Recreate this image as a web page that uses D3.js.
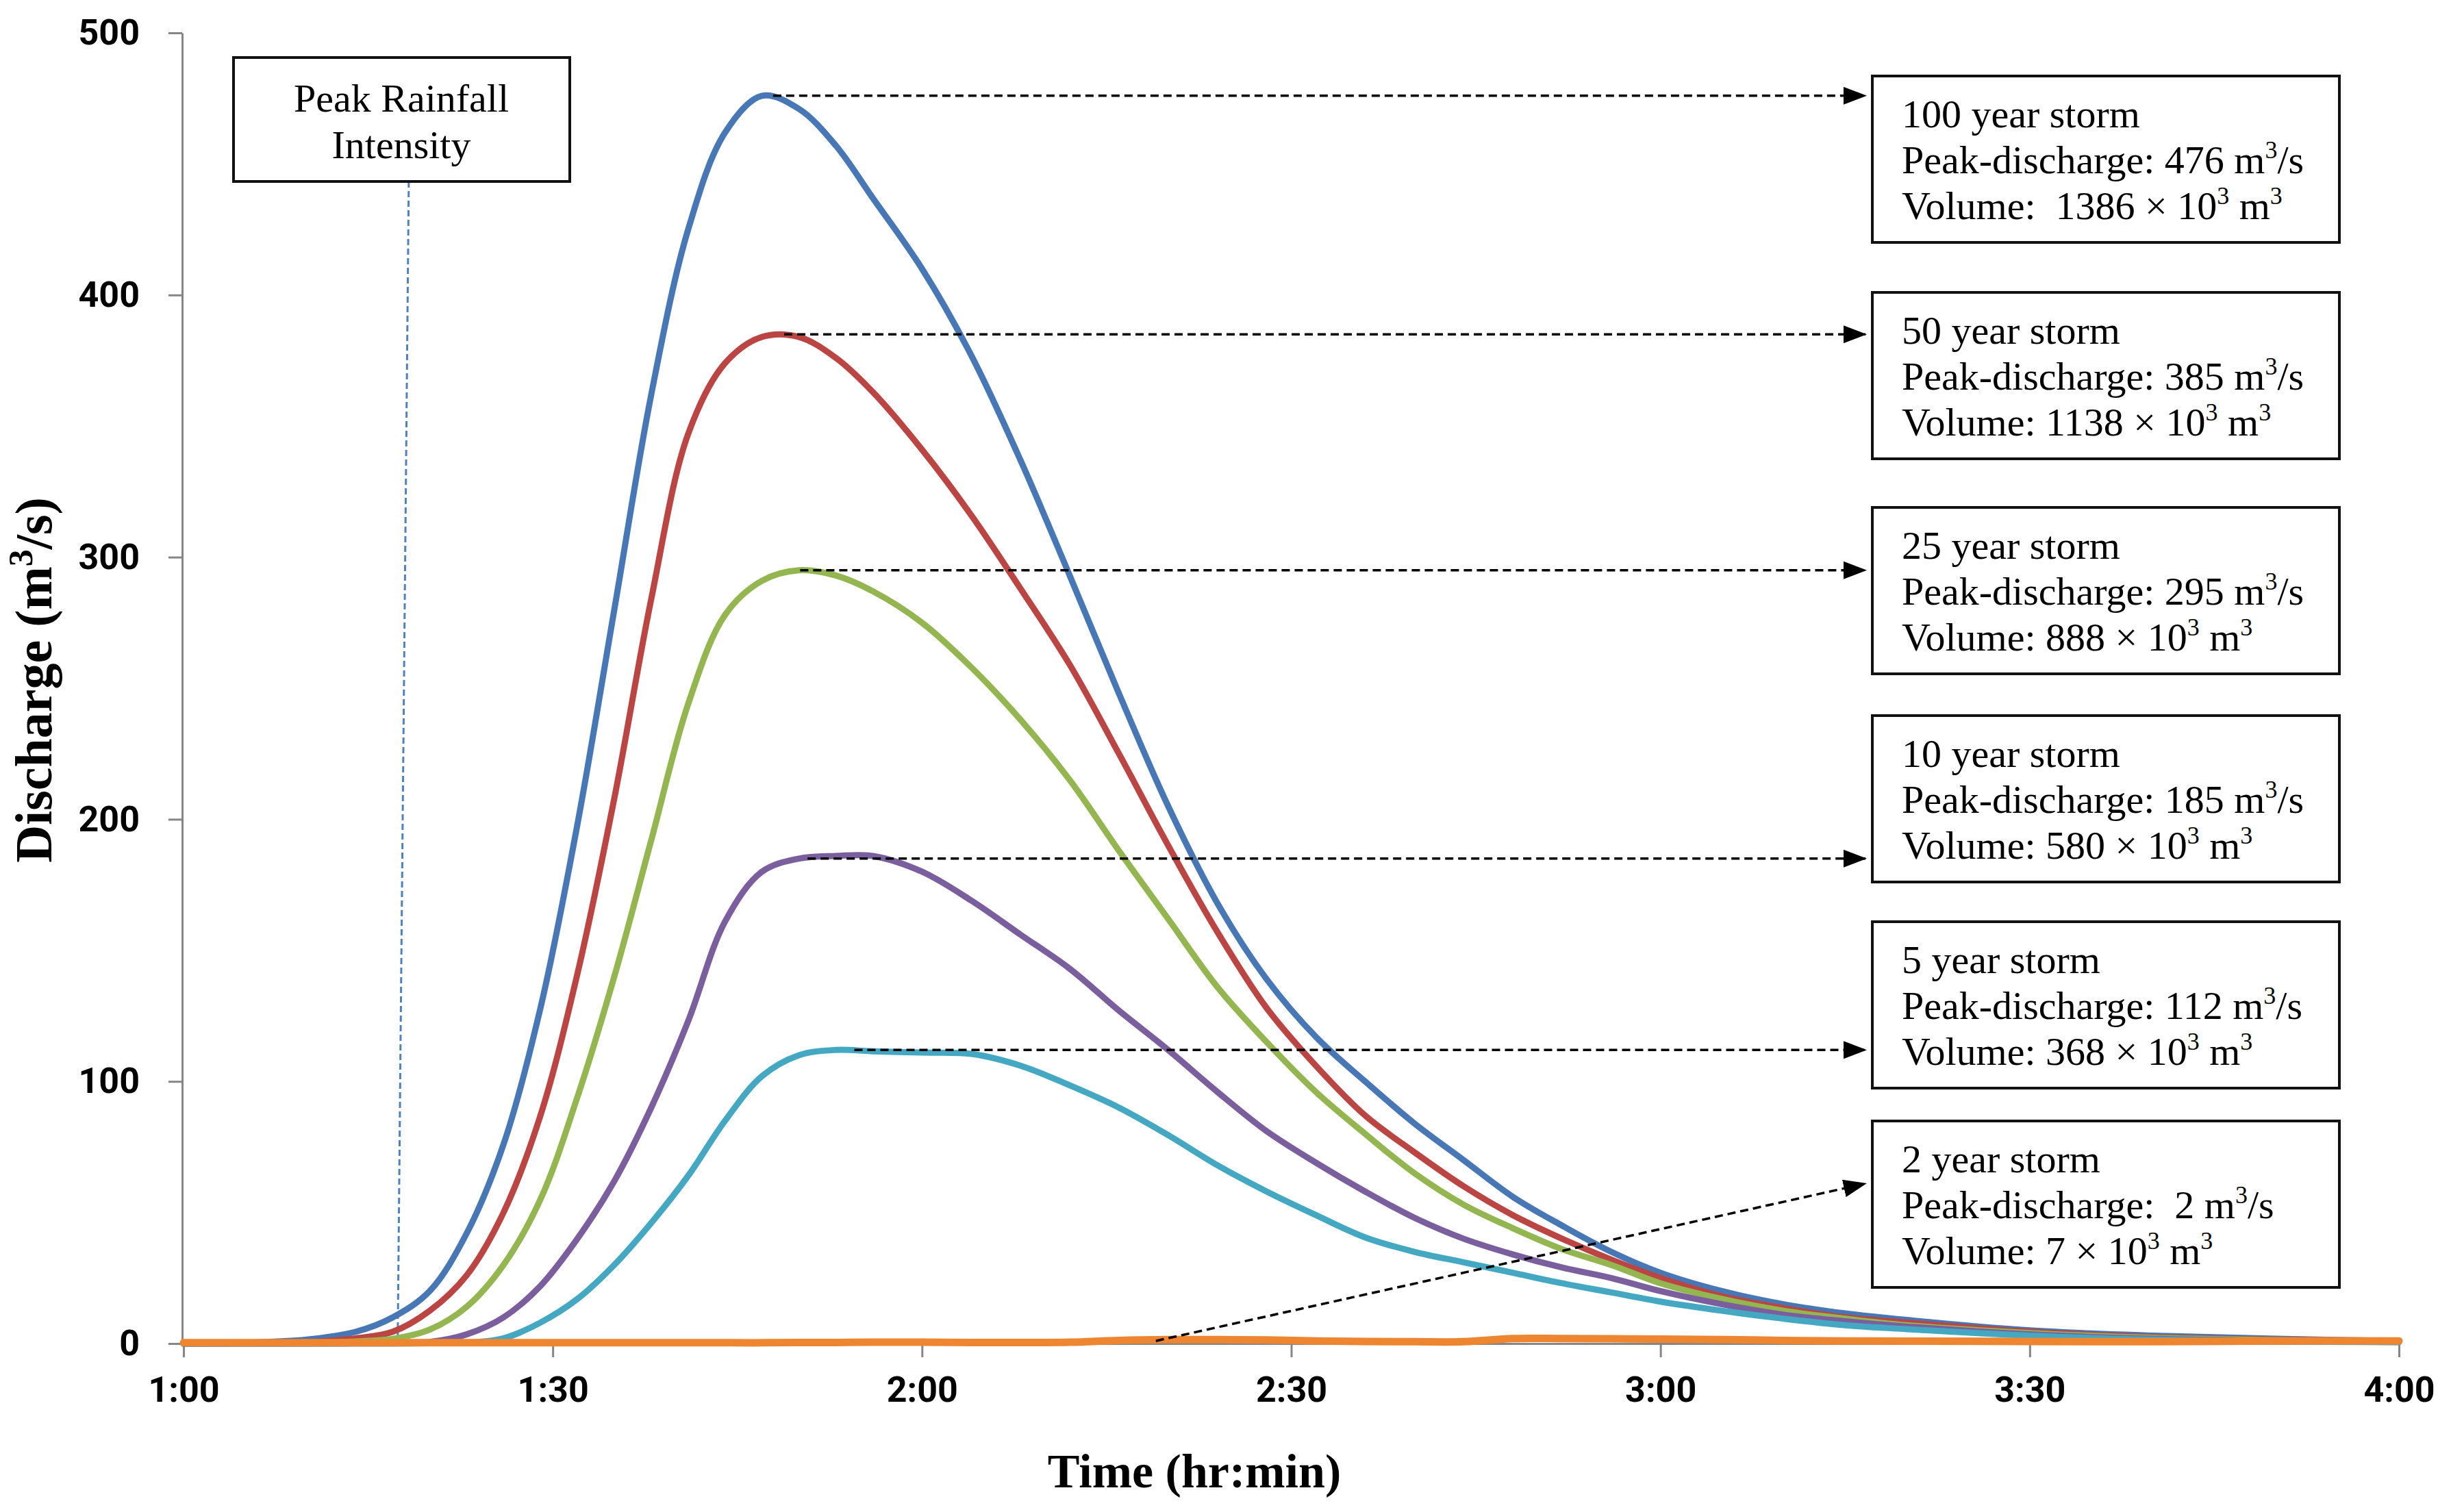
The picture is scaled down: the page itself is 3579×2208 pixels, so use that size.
<!DOCTYPE html>
<html>
<head>
<meta charset="utf-8">
<script src="https://cdn.jsdelivr.net/npm/d3@7"></script>
<style>
  body { margin: 0; background: #fff; }
  text { white-space: pre; }
</style>
</head>
<body>
<div class="chart"></div>
<script>
// time in minutes after midnight (1:00 = 60)
const times = [60, 65, 70, 74, 77, 80, 83, 86, 89, 92, 95, 98, 101, 104, 107, 110, 113, 116, 120,
  124, 128, 132, 136, 140, 144, 148, 152, 156, 160, 164, 168, 172, 176, 180, 185, 190, 195, 200, 210,
  220, 230, 240];

const storm100 = [0, 0.3, 1.5, 4.5, 10, 20, 42, 76, 128, 198, 280, 362, 425, 462, 476, 471, 457, 437, 410,
  377, 337, 293, 248, 205, 168, 139, 117, 100, 84, 70, 56, 45, 35, 27, 20, 15, 11.5, 9, 5, 3, 1.8, 1];
const storm50 = [0, 0.1, 0.5, 2, 4.5, 12.5, 26, 50, 87, 141, 208, 284, 347, 374, 384, 384, 376, 363, 341,
  316, 288, 259, 225, 190, 157, 128, 106, 87, 73, 60, 49, 40, 32, 25, 18, 13.5, 10, 8, 4.5, 2.5, 1.5, 1];
const storm25 = [0, 0, 0.2, 0.8, 1.8, 5.3, 14, 30, 55, 94, 140, 192, 244, 278, 291, 295, 293, 287, 275,
  258, 238, 215, 188, 162, 136, 115, 96, 80, 65, 53, 44, 36, 30, 23, 17, 12.5, 9.5, 7, 4, 2.2, 1.3, 0.8];
const storm10 = [0, 0, 0, 0.1, 0.2, 0.6, 3.5, 10, 22, 40, 62, 90, 123, 161, 180, 185, 186, 186, 180,
  169, 156, 143, 127, 112, 96, 81, 69, 58, 48, 40, 34, 29, 25, 20, 15, 11, 8.5, 6.5, 3.5, 1.8, 1, 0.6];
const storm5 = [0, 0, 0, 0, 0, 0.1, 0.3, 2, 8, 17, 30, 46, 64, 85, 102, 110, 112, 111.5, 111,
  110.5, 106, 98.5, 90, 79.5, 68, 58, 49, 40.5, 35, 31, 27, 23, 19.5, 16, 12.5, 9.5, 7, 5.5, 3, 1.5, 0.8, 0.5];
const storm2 = [0.3, 0.3, 0.3, 0.3, 0.3, 0.3, 0.3, 0.3, 0.3, 0.3, 0.3, 0.3, 0.3, 0.3, 0.3, 0.4, 0.4, 0.5, 0.5,
  0.4, 0.4, 0.5, 1.2, 1.5, 1.5, 1.4, 1.0, 0.8, 0.7, 0.7, 1.9, 1.9, 1.8, 1.7, 1.5, 1.2, 1.0, 0.9, 0.8, 0.7, 1.0, 1.0];

const seriesValues = [storm100, storm50, storm25, storm10, storm5, storm2];
const seriesColors = ["#4877B6", "#BB4542", "#93B650", "#7B5E9E", "#45A8C3", "#EE8530"];

const stormNames = ["100 year storm", "50 year storm", "25 year storm", "10 year storm", "5 year storm", "2 year storm"];
const peakDischarge = ["476", "385", "295", "185", "112", " 2"];
const volumes = [" 1386", "1138", "888", "580", "368", "7"];
// where each dashed arrow leaves the curve (time, discharge) and the height it arrives at
const arrowStartTime = [107.9, 108.8, 110.1, 110.7, 114.5, 139];
const arrowStartValue = [476, 385, 295, 185, 112, 1];
const arrowEndValue = [476, 385, 295, 185, 112, 61];

const xTicks = [60, 90, 120, 150, 180, 210, 240];
const yTicks = [0, 100, 200, 300, 400, 500];
const peakRainfallTime = [78.3, 77.4];

const svg = d3.select(".chart")
  .append("svg")
    .attr("width", 3579)
    .attr("height", 2208);

svg.append("rect")
  .attr("width", 3579)
  .attr("height", 2208)
  .attr("fill", "#fff");

const x = d3.scaleLinear().domain([60, 240]).range([268, 3503]);
const y = d3.scaleLinear().domain([0, 500]).range([1962, 48]);

const fmtTime = m => `${Math.floor(m / 60)}:${String(m % 60).padStart(2, "0")}`;

// axes
const yAxis = svg.append("g")
  .attr("transform", "translate(266,0)")
  .call(d3.axisLeft(y).tickValues(yTicks).tickSize(20).tickSizeOuter(0).tickPadding(42));

const xAxis = svg.append("g")
  .attr("transform", `translate(0,${y(0)})`)
  .call(d3.axisBottom(x).tickValues(xTicks).tickFormat(fmtTime).tickSize(20).tickSizeOuter(0).tickPadding(28));

[yAxis, xAxis].forEach(g => {
  g.select(".domain").attr("stroke", "#868686").attr("stroke-width", 3);
  g.selectAll(".tick line").attr("stroke", "#868686").attr("stroke-width", 3);
  g.selectAll(".tick text")
    .attr("fill", "#000")
    .style("font-family", "Roboto, 'DejaVu Sans', sans-serif")
    .style("font-weight", 700)
    .style("font-size", "52px");
});

// axis titles
const yTitle = svg.append("text")
  .attr("transform", `translate(75,${993}) rotate(-90)`)
  .attr("text-anchor", "middle")
  .style("font-family", "'Liberation Serif', 'Times New Roman', serif")
  .style("font-weight", 700)
  .style("font-size", "76px");
yTitle.append("tspan").text("Discharge (m");
yTitle.append("tspan").attr("dy", -28).style("font-size", "50px").text("3");
yTitle.append("tspan").attr("dy", 28).text("/s)");

svg.append("text")
  .attr("x", 1744)
  .attr("y", 2172)
  .attr("text-anchor", "middle")
  .style("font-family", "'Liberation Serif', 'Times New Roman', serif")
  .style("font-weight", 700)
  .style("font-size", "70px")
  .text("Time (hr:min)");

// peak rainfall marker
svg.append("line")
  .attr("x1", x(peakRainfallTime[0]))
  .attr("y1", 265)
  .attr("x2", x(peakRainfallTime[1]))
  .attr("y2", y(0))
  .attr("stroke", "#4F81BD")
  .attr("stroke-width", 3)
  .attr("stroke-dasharray", "9,5");

svg.append("rect")
  .attr("x", 341).attr("y", 84)
  .attr("width", 491).attr("height", 181)
  .attr("fill", "#fff")
  .attr("stroke", "#111")
  .attr("stroke-width", 4);

svg.append("text")
  .attr("x", 586)
  .attr("text-anchor", "middle")
  .style("font-family", "'Liberation Serif', 'Times New Roman', serif")
  .style("font-size", "58px")
  .selectAll("tspan")
  .data(["Peak Rainfall", "Intensity"])
  .join("tspan")
    .attr("x", 586)
    .attr("y", (d, i) => 163 + i * 68)
    .text(d => d);

// hydrograph lines
const line = d3.line()
  .x((d, i) => x(times[i]))
  .y(d => y(d))
  .curve(d3.curveCatmullRom.alpha(0.5));

svg.append("g")
  .selectAll("path")
  .data(seriesValues)
  .join("path")
    .attr("d", d => line(d))
    .attr("fill", "none")
    .attr("stroke", (d, i) => seriesColors[i])
    .attr("stroke-width", (d, i) => i === 5 ? 11 : 9)
    .attr("stroke-linejoin", "round")
    .attr("stroke-linecap", "round");

// storm boxes
const boxTops = [111, 427, 741, 1045, 1346, 1637];
const boxLeft = 2734;
const boxWidth = 682;
const boxHeight = 243;

svg.append("defs")
  .append("marker")
    .attr("id", "arrow")
    .attr("markerUnits", "userSpaceOnUse")
    .attr("markerWidth", 34)
    .attr("markerHeight", 26)
    .attr("refX", 32)
    .attr("refY", 13)
    .attr("orient", "auto")
  .append("path")
    .attr("d", "M0,0 L34,13 L0,26 Z")
    .attr("fill", "#000");

svg.append("g")
  .selectAll("line")
  .data(stormNames)
  .join("line")
    .attr("x1", (d, i) => x(arrowStartTime[i]))
    .attr("y1", (d, i) => y(arrowStartValue[i]))
    .attr("x2", boxLeft - 10)
    .attr("y2", (d, i) => y(arrowEndValue[i]))
    .attr("stroke", "#000")
    .attr("stroke-width", 3.5)
    .attr("stroke-dasharray", "12,7")
    .attr("marker-end", "url(#arrow)");

const boxes = svg.append("g")
  .selectAll("g")
  .data(stormNames)
  .join("g")
    .attr("transform", (d, i) => `translate(${boxLeft},${boxTops[i]})`);

boxes.append("rect")
  .attr("width", boxWidth)
  .attr("height", boxHeight)
  .attr("fill", "#fff")
  .attr("stroke", "#111")
  .attr("stroke-width", 4);

const boxText = boxes.append("text")
  .style("font-family", "'Liberation Serif', 'Times New Roman', serif")
  .style("font-size", "58px");

boxText.append("tspan")
  .attr("x", 43).attr("y", 75)
  .text(d => d);

const peakLine = boxText.append("tspan").attr("x", 43).attr("y", 142);
peakLine.append("tspan").text((d, i) => `Peak-discharge: ${peakDischarge[i]} m`);
peakLine.append("tspan").attr("dy", -22).style("font-size", "36px").text("3");
peakLine.append("tspan").attr("dy", 22).text("/s");

const volLine = boxText.append("tspan").attr("x", 43).attr("y", 209);
volLine.append("tspan").text((d, i) => `Volume: ${volumes[i]} × 10`);
volLine.append("tspan").attr("dy", -22).style("font-size", "36px").text("3");
volLine.append("tspan").attr("dy", 22).text(" m");
volLine.append("tspan").attr("dy", -22).style("font-size", "36px").text("3");
</script>
</body>
</html>
